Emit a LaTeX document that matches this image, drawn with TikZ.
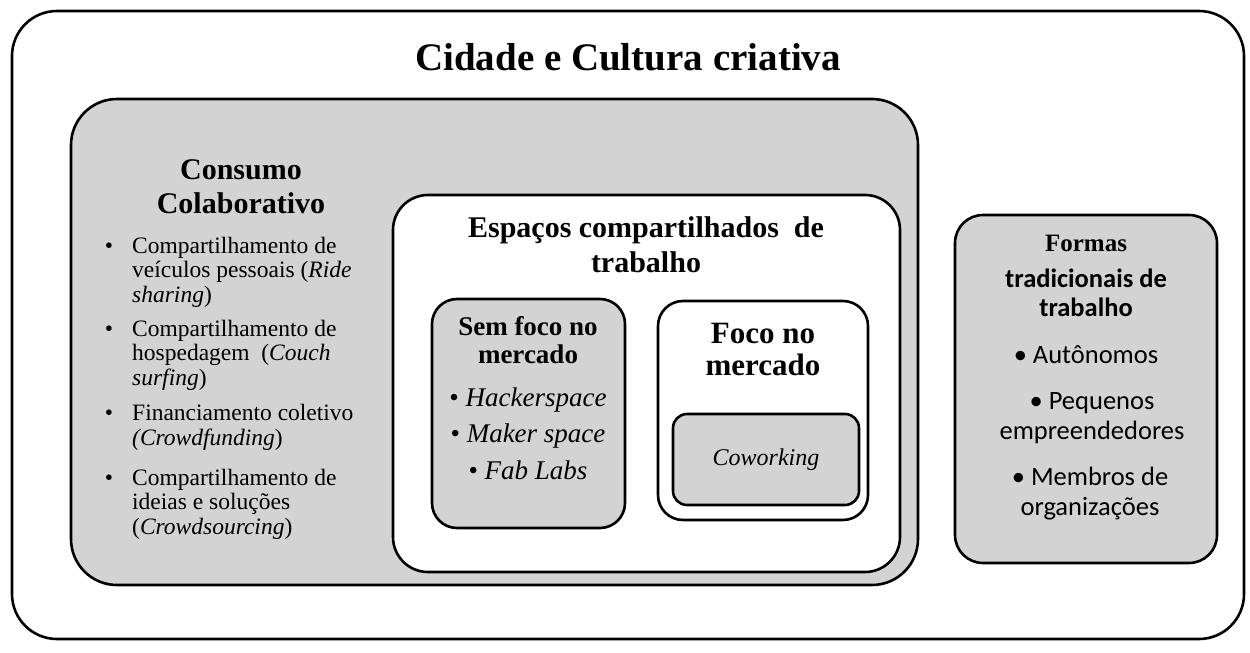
\documentclass[tikz,border=0pt]{standalone}
\usepackage{fontspec}
\setmainfont{Liberation Serif}
\newfontfamily\calibri{Carlito}
\usetikzlibrary{positioning}
\definecolor{boxgray}{RGB}{211,211,211}
\tikzset{box/.style = {draw, line width=2.6pt, rounded corners=#1},
  graybox/.style = {box=#1, fill=boxgray},
  whitebox/.style = {box=#1, fill=white},
  txt/.style = {anchor=base, align=center},
  item/.style = {anchor=base west, align=left, font=\fontsize{23.5}{24.5}\selectfont}}

\begin{document}
\begin{tikzpicture}[x=1pt, y=-1pt, inner sep=0pt]
    \useasboundingbox (0,0) rectangle (1250,653);

    \draw [box=45] (12,11) rectangle (1244,639);
    \draw [graybox=46] (71,99) rectangle (918,585);
    \draw [whitebox=35] (393,195) rectangle (900,572);
    \draw [graybox=25] (432,299) rectangle (625,528);
    \draw [whitebox=25] (658,301) rectangle (868,520);
    \draw [graybox=14] (673,414) rectangle (859,505);
    \draw [graybox=28] (955,215) rectangle (1217,563);

    % multi-line nodes sit on the baseline of their last line
    \node [txt, font=\bfseries\fontsize{39}{44}\selectfont] (cidade) at (628,70) {Cidade e Cultura criativa};

    % consumo colaborativo
    \node [txt, font=\bfseries\fontsize{30}{34}\selectfont] (consumo) at (241,213) {Consumo\\Colaborativo};
    \node [item] (ride) at (132,302) {Compartilhamento de\\veículos pessoais (\textit{Ride}\\\textit{sharing})};
    \node [item] (couch) at (132,385) {Compartilhamento de\\hospedagem \ (\textit{Couch}\\\textit{surfing})};
    \node [item] (funding) at (132,445) {Financiamento coletivo\\\textit{(Crowdfunding})};
    \node [item] (sourcing) at (132,534) {Compartilhamento de\\ideias e soluções\\(\textit{Crowdsourcing})};
    \foreach \y [count=\i] in {253,336,420,485}
      \node [txt, font=\fontsize{23.5}{24.5}\selectfont] (dot\i) at (109,\y) {\textbullet};

    % espacos compartilhados
    \node [txt, font=\bfseries\fontsize{30}{35}\selectfont] (espacos) at (646,272) {Espaços compartilhados \ de\\trabalho};
    \node [txt, font=\bfseries\fontsize{27}{28}\selectfont] (semfoco) at (528,363) {Sem foco no\\mercado};
    \node [txt, font=\fontsize{27}{36.5}\selectfont] (hacker) at (528,479) {\textbullet\ \textit{Hackerspace}\\\textbullet\ \textit{Maker space}\\\textbullet\ \textit{Fab Labs}};
    \node [txt, font=\bfseries\fontsize{31}{32}\selectfont] (foco) at (763,375) {Foco no\\mercado};
    \node [txt, font=\itshape\fontsize{24}{28}\selectfont] (cowork) at (766,465) {Coworking};

    % formas tradicionais
    \node [txt, font=\bfseries\fontsize{25}{28}\selectfont] (formas) at (1086,251) {Formas};
    \node [txt, font=\calibri\bfseries\fontsize{26.5}{29}\selectfont] (tradicionais) at (1086,316) {tradicionais de\\trabalho};
    \node [txt, font=\calibri\fontsize{26.5}{30}\selectfont] (autonomos) at (1086,363) {• Autônomos};
    \node [txt, font=\calibri\fontsize{26.5}{30}\selectfont] (pequenos) at (1092,439) {• Pequenos\\empreendedores};
    \node [txt, font=\calibri\fontsize{26.5}{30}\selectfont] (membros) at (1090,515) {• Membros de\\organizações};
\end{tikzpicture}
\end{document}
